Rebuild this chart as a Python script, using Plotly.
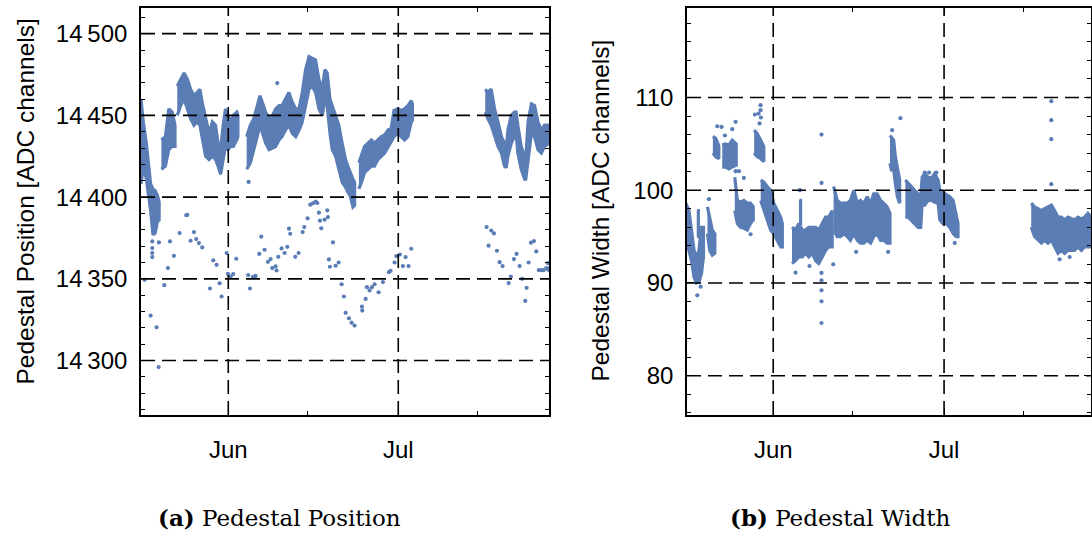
import pandas as pd
import plotly.graph_objects as go

# ---------------------------------------------------------------------------
# Data: days are counted from 1 June; dense periods are stored as the
# min / max envelope of the readings, isolated readings as single points.
# ---------------------------------------------------------------------------
BASE_DAY = pd.Timestamp("2021-06-01")

# Pedestal position [ADC channels] - dense periods
POS_BAND_DAYS = [
    [-15.4, -15.0, -14.5, -14.1, -13.7, -13.3, -12.9, -12.5, -12.2],
    [-11.8, -11.1, -10.5, -9.9, -9.4],
    [-9.0, -8.4, -7.8, -7.2, -6.65, -6.05, -5.5, -5.0, -4.6, -4.0, -3.4, -2.8,
     -2.25, -1.8, -1.35, -0.9, -0.5, -0.05, 0.4, 0.9, 1.5, 1.7],
    [3.25, 3.9, 4.5, 5.1, 5.6, 6.0, 6.6, 7.2, 7.8, 8.35, 8.95, 9.5, 10.1, 10.7,
     11.3, 11.9, 12.5, 13.05, 13.65, 14.25, 14.8, 15.4, 16.0, 16.6, 17.05, 17.45,
     17.95, 18.35, 18.95, 19.5, 20.1, 20.7, 21.1, 21.5, 22.0, 22.3],
    [23.05, 23.5, 24.05, 24.65, 25.25, 25.8, 26.4, 27.0, 27.6, 28.2, 28.75, 29.25,
     29.95, 30.5, 31.1, 31.7, 32.3, 32.5],
    [45.35, 45.8, 46.4, 47.0, 47.6, 48.2, 48.75, 49.05, 49.35, 49.95, 50.5, 50.8,
     51.1, 51.7, 52.3, 52.5, 52.9, 53.5, 54.05, 54.65, 55.25, 55.8, 56.6],
]
POS_BAND_HIGH = [
    [14460, 14446, 14434, 14420, 14408, 14405, 14404, 14401, 14397],
    [14435, 14437, 14454, 14452, 14444],
    [14468, 14472, 14476, 14472, 14466, 14462, 14464, 14466, 14458, 14448, 14439,
     14446, 14444, 14433, 14429, 14444, 14454, 14450, 14446, 14450, 14452, 14450],
    [14437, 14444, 14448, 14456, 14462, 14458, 14452, 14448, 14450, 14454, 14456,
     14456, 14460, 14464, 14458, 14454, 14454, 14464, 14478, 14486, 14485, 14484,
     14472, 14466, 14478, 14476, 14460, 14456, 14450, 14444, 14433, 14423, 14419,
     14415, 14411, 14409],
    [14421, 14425, 14431, 14433, 14435, 14433, 14435, 14437, 14438, 14441, 14442,
     14453, 14454, 14453, 14454, 14456, 14459, 14457],
    [14466, 14464, 14466, 14454, 14446, 14437, 14433, 14429, 14441, 14450, 14452,
     14452, 14444, 14431, 14425, 14423, 14446, 14457, 14456, 14446, 14441, 14444,
     14444],
]
POS_BAND_LOW = [
    [14408, 14418, 14412, 14402, 14392, 14377, 14378, 14385, 14386],
    [14417, 14419, 14429, 14431, 14431],
    [14450, 14456, 14460, 14454, 14448, 14444, 14446, 14444, 14435, 14425, 14423,
     14425, 14423, 14419, 14414, 14423, 14431, 14429, 14431, 14431, 14435, 14437],
    [14417, 14421, 14429, 14437, 14444, 14439, 14433, 14429, 14430, 14431, 14435,
     14437, 14441, 14444, 14439, 14437, 14441, 14446, 14456, 14466, 14468, 14464,
     14454, 14450, 14460, 14456, 14439, 14429, 14425, 14417, 14409, 14406, 14403,
     14401, 14394, 14395],
    [14405, 14409, 14415, 14417, 14419, 14419, 14423, 14425, 14427, 14431, 14434,
     14437, 14439, 14437, 14435, 14437, 14446, 14447],
    [14452, 14448, 14444, 14437, 14431, 14427, 14419, 14418, 14425, 14433, 14437,
     14439, 14427, 14417, 14411, 14411, 14423, 14439, 14437, 14429, 14427, 14431,
     14433],
]

# Pedestal position - isolated readings
POS_DOT_DAY = [
    -14.76, -13.71, -12.65, -12.29, -13.41, -13.41, -13.41, -13.41, -13.12, -12.24,
    -11.29, -10.65, -10.29, -9.59, -8.59, -7.41, -7.24, -6.65, -6.06, -5.65, -5.18,
    -4.59, -3.24, -2.65, -2.06, -1.53, -1.18, -0.29, -0.06, 0.41, 0.88, 1.41, 3.53,
    3.82, 4.35, 4.82, 5.47, 5.82, 6.41, 7.0, 7.47, 7.76, 8.35, 8.53, 8.82, 9.41,
    9.94, 10.41, 10.71, 10.94, 11.82, 12.41, 13.12, 13.41, 14.0, 14.47, 14.94,
    15.41, 15.71, 16.0, 16.18, 16.41, 17.0, 17.47, 17.59, 17.76, 17.94, 18.47,
    18.94, 19.47, 20.0, 20.41, 20.71, 21.29, 21.76, 22.29, 23.59, 23.65, 24.24,
    24.47, 24.94, 25.35, 25.82, 26.53, 27.29, 28.35, 28.65, 29.35, 29.65, 30.29,
    30.82, 31.29, 31.82, 32.29, 45.59, 45.94, 46.41, 46.88, 47.41, 47.88, 48.41,
    49.47, 49.88, 50.41, 50.88, 51.41, 51.88, 52.41, 52.65, 53.0, 53.41, 53.94,
    54.35, 54.82, 55.29, 55.65, 56.12, 56.41, 56.5, 56.55, 8.65, 3.59,
]
POS_DOT_VAL = [
    14349.4, 14327.5, 14320.4, 14296.0, 14372.9, 14368.8, 14365.8, 14363.3, 14380.1,
    14372.3, 14346.1, 14356.6, 14372.9, 14364.1, 14378.0, 14388.9, 14389.1, 14373.3,
    14378.6, 14374.3, 14371.9, 14369.2, 14344.1, 14361.3, 14358.6, 14347.3, 14339.2,
    14365.8, 14353.1, 14351.4, 14352.9, 14362.3, 14352.3, 14344.1, 14351.2, 14351.8,
    14365.3, 14375.8, 14367.8, 14360.4, 14362.1, 14356.6, 14357.6, 14355.1, 14363.5,
    14368.6, 14365.8, 14369.6, 14380.7, 14377.6, 14363.5, 14365.8, 14378.6, 14381.7,
    14387.0, 14395.4, 14396.2, 14397.2, 14396.4, 14390.5, 14385.6, 14380.9, 14386.2,
    14391.9, 14387.8, 14361.9, 14357.4, 14372.3, 14358.0, 14360.0, 14346.7, 14339.2,
    14329.2, 14325.9, 14323.2, 14321.4, 14333.0, 14330.6, 14337.7, 14344.9, 14342.9,
    14344.9, 14346.7, 14341.8, 14348.0, 14354.1, 14354.9, 14360.0, 14363.9, 14364.9,
    14357.8, 14363.3, 14357.8, 14368.4, 14381.7, 14370.3, 14379.5, 14377.8, 14367.2,
    14360.2, 14357.8, 14347.4, 14351.4, 14362.1, 14365.3, 14357.8, 14350.0, 14336.5,
    14344.5, 14360.0, 14372.1, 14373.1, 14366.8, 14355.3, 14355.3, 14355.3, 14356.6,
    14359.6, 14355.5, 14356.2, 14469.8, 14409.3,
]

# Pedestal width [ADC channels] - dense periods
WID_BAND_DAYS = [
    [-15.35, -14.8, -14.35, -13.9, -13.5, -13.05, -12.6, -12.25],
    [-13.35, -13.15],
    [-11.55, -11.15, -10.7, -10.25],
    [-10.6, -10.1, -9.55],
    [-8.95, -8.35, -7.8, -7.2, -6.5],
    [-6.75, -6.3, -5.75, -5.15, -4.55, -4.0, -3.5],
    [-3.35, -2.8, -2.2, -1.65],
    [-2.2, -1.65, -1.05, -0.45, 0.1, 0.7, 1.3, 1.6],
    [3.3, 3.9, 4.5, 5.1, 5.65, 6.25, 6.85, 7.45, 8.0, 8.6, 9.2, 9.75, 10.35],
    [4.6, 4.8],
    [10.6, 11.25, 11.8, 12.4, 13.0, 13.55, 14.15, 14.75, 15.3, 15.9, 16.5, 17.1,
     17.65, 18.25, 18.85, 19.4, 20.0, 20.5],
    [20.5, 20.75, 21.15, 21.45, 21.8, 22.2],
    [23.2, 23.7, 24.25, 24.85, 25.45, 25.9, 26.15, 26.6, 27.2, 27.8, 28.35, 28.95,
     29.25, 29.8, 30.4, 31.0, 31.6, 32.15, 32.45],
    [45.3, 45.9, 46.5, 47.1, 47.65, 48.25, 48.85, 49.4, 50.0, 50.6, 51.15, 51.75,
     52.35, 52.9, 53.5, 54.1, 54.7, 55.25, 55.9],
]
WID_BAND_HIGH = [
    [98.6, 97.8, 95.7, 93.5, 92.8, 93.5, 96.0, 96.0],
    [97.8, 97.8],
    [98.2, 97.1, 95.7, 95.3],
    [105.8, 105.6, 104.8],
    [104.9, 105.0, 104.85, 105.4, 105.0],
    [101.4, 98.9, 98.7, 98.9, 98.6, 98.6, 98.2],
    [106.5, 106.1, 105.4, 104.7],
    [101.1, 100.9, 100.4, 100.0, 98.6, 97.8, 97.1, 96.4],
    [96.0, 95.7, 96.4, 95.7, 95.7, 96.0, 96.0, 96.0, 95.7, 96.4, 97.1, 97.1, 97.8],
    [98.9, 98.9],
    [100.4, 98.9, 98.6, 98.6, 98.6, 98.9, 100.0, 98.6, 98.9, 98.6, 99.3, 98.6, 99.6,
     99.6, 98.9, 98.6, 98.2, 97.5],
    [105.9, 105.75, 105.4, 103.6, 102.2, 101.1],
    [101.1, 100.7, 100.4, 100.0, 99.6, 99.3, 101.4, 101.8, 101.4, 101.3, 101.8,
     101.1, 100.0, 99.8, 99.6, 99.3, 98.9, 97.1, 96.4],
    [98.6, 98.2, 98.0, 97.8, 98.0, 98.2, 98.4, 97.8, 97.1, 97.1, 96.8, 97.1, 96.9,
     96.8, 97.1, 96.9, 97.1, 97.5, 97.1],
]
WID_BAND_LOW = [
    [95.0, 93.5, 92.4, 90.6, 90.0, 90.1, 91.0, 92.8],
    [95.0, 95.0],
    [95.3, 93.5, 93.0, 93.2],
    [104.0, 103.6, 103.4],
    [102.5, 102.5, 102.3, 102.5, 102.7],
    [97.8, 96.4, 96.0, 95.9, 95.7, 96.4, 96.8],
    [104.0, 103.6, 103.4, 103.1],
    [98.9, 97.8, 96.8, 95.7, 95.3, 94.6, 93.9, 93.9],
    [92.1, 92.4, 92.8, 92.8, 93.2, 92.8, 93.2, 92.4, 92.1, 92.8, 93.5, 93.9, 93.9],
    [96.4, 96.4],
    [95.7, 95.0, 95.0, 95.3, 95.0, 94.6, 95.3, 94.6, 94.3, 94.3, 94.6, 94.3, 95.0,
     95.3, 94.6, 94.6, 94.3, 94.3],
    [102.9, 102.2, 102.2, 100.7, 99.3, 98.6],
    [97.1, 97.1, 96.8, 96.4, 96.0, 96.0, 98.6, 98.4, 98.9, 98.9, 98.7, 98.6, 96.8,
     96.4, 96.4, 96.0, 95.3, 95.0, 95.0],
    [96.0, 95.0, 94.6, 94.3, 94.6, 94.3, 94.6, 93.9, 93.2, 93.5, 93.2, 93.5, 93.5,
     93.5, 93.9, 93.5, 93.9, 93.9, 93.9],
]

# Pedestal width - isolated readings
WID_DOT_DAY = [
    -11.29, -6.61, -6.02, -5.15, -6.61, -7.19, -9.06, -9.82, 3.92, 6.37, 8.48, 8.48,
    8.48, 8.48, 8.48, 8.48, 8.48, 10.53, 14.56, 4.68, -2.22, -2.22, -2.57, -3.22,
    -2.16, -2.4, 20.88, 22.34, 48.83, 48.83, 48.83, 48.83, 26.61, 27.37, 28.65,
    31.87, 20.18, 50.29, 52.05, -13.33, -12.75, -3.98, -8.48,
]
WID_DOT_VAL = [
    99.03, 102.05, 102.05, 101.33, 107.37, 106.58, 106.83, 106.9, 91.11, 91.83,
    91.08, 90.29, 89.2, 88.02, 85.68, 100.79, 106.0, 92.01, 93.35, 100.0, 109.17,
    108.63, 108.27, 108.16, 107.84, 107.2, 106.47, 107.77, 109.6, 107.55, 105.5,
    100.65, 101.9, 101.9, 101.9, 94.32, 93.35, 92.55, 92.8, 88.67, 89.6, 95.25,
    105.9,
]

# Axis ticks
MONTH_TICKS = [0, 30]                  # days from 1 June
MONTH_LABELS = ["Jun", "Jul"]
MID_MONTH_TICKS = [-17, 14, 44]        # 15th of May, June, July
POS_TICKS = [14300, 14350, 14400, 14450, 14500]
POS_LABELS = ["14\u2009300", "14\u2009350", "14\u2009400", "14\u2009450", "14\u2009500"]
WID_TICKS = [80, 90, 100, 110]
WID_LABELS = ["80", "90", "100", "110"]

POS_RANGE_DAYS = [-15.4, 56.6]
WID_RANGE_DAYS = [-15.14, 55.8]
POS_RANGE = [14266.7, 14515.7]
WID_RANGE = [75.76, 119.65]

POINT_COLOR = "#5a7db6"


def to_dates(days):
    return [BASE_DAY + pd.Timedelta(days=float(d)) for d in days]


fig = go.Figure()


def add_panel(band_days, band_high, band_low, dot_day, dot_val, xa, ya):
    for d, hi, lo in zip(band_days, band_high, band_low):
        xs = to_dates(list(d) + list(d)[::-1])
        ys = list(hi) + list(lo)[::-1]
        fig.add_trace(go.Scatter(
            x=xs, y=ys, fill="toself", mode="lines",
            fillcolor=POINT_COLOR,
            line=dict(color=POINT_COLOR, width=3.2),
            xaxis=xa, yaxis=ya, showlegend=False, hoverinfo="skip",
        ))
    fig.add_trace(go.Scatter(
        x=to_dates(dot_day), y=dot_val, mode="markers",
        marker=dict(color=POINT_COLOR, size=4.2, line=dict(width=0)),
        xaxis=xa, yaxis=ya, showlegend=False,
    ))


add_panel(POS_BAND_DAYS, POS_BAND_HIGH, POS_BAND_LOW, POS_DOT_DAY, POS_DOT_VAL, "x", "y")
add_panel(WID_BAND_DAYS, WID_BAND_HIGH, WID_BAND_LOW, WID_DOT_DAY, WID_DOT_VAL, "x2", "y2")

W, H = 1092, 536
TICK_FONT = dict(family="Liberation Sans", size=24, color="black")
Y_DOM = [1 - 415 / H, 1 - 8 / H]

common_axis = dict(
    showline=True, linecolor="black", linewidth=1.6, mirror="allticks",
    ticks="inside", ticklen=7, tickwidth=1.4, tickcolor="black",
    showgrid=False, zeroline=False, tickfont=TICK_FONT, layer="above traces",
)


def x_axis(domain, rng, anchor):
    return dict(
        common_axis, domain=domain, anchor=anchor, type="date",
        range=to_dates(rng), tickmode="array",
        tickvals=to_dates(MONTH_TICKS), ticktext=MONTH_LABELS,
        ticklabelstandoff=12,
        minor=dict(tickmode="array", tickvals=to_dates(MID_MONTH_TICKS),
                   ticks="inside", ticklen=4, tickwidth=1.3, tickcolor="black",
                   showgrid=False),
    )


def y_axis(domain, rng, ticks, labels, minor_step, anchor):
    return dict(
        common_axis, domain=domain, anchor=anchor, range=rng,
        tickmode="array", tickvals=ticks, ticktext=labels,
        ticklabelstandoff=7,
        minor=dict(tickmode="linear", tick0=ticks[0], dtick=minor_step,
                   ticks="inside", ticklen=4.5, tickwidth=1.3, tickcolor="black",
                   showgrid=False),
    )


fig.update_layout(
    width=W, height=H,
    margin=dict(l=0, r=0, t=0, b=0),
    paper_bgcolor="white", plot_bgcolor="white",
    xaxis=x_axis([141 / W, 549 / W], POS_RANGE_DAYS, "y"),
    yaxis=y_axis(Y_DOM, POS_RANGE, POS_TICKS, POS_LABELS, 10, "x"),
    xaxis2=x_axis([687 / W, 1091 / W], WID_RANGE_DAYS, "y2"),
    yaxis2=y_axis(Y_DOM, WID_RANGE, WID_TICKS, WID_LABELS, 2, "x2"),
)

# Dashed grid drawn on top of the readings, at the major tick positions
GRID = dict(color="black", width=1.6, dash="14px,7px")
shapes = []
for xa, ya, yticks in (("x", "y", POS_TICKS), ("x2", "y2", WID_TICKS)):
    for d in MONTH_TICKS:
        t = to_dates([d])[0]
        shapes.append(dict(type="line", xref=xa, yref=f"{ya} domain", x0=t, x1=t,
                           y0=0, y1=1, line=GRID, layer="above"))
    for v in yticks:
        shapes.append(dict(type="line", xref=f"{xa} domain", yref=ya, x0=0, x1=1,
                           y0=v, y1=v, line=GRID, layer="above"))
fig.update_layout(shapes=shapes)

# Axis titles and panel captions
TITLE_FONT = dict(family="Liberation Sans", size=24.5, color="black")
CAPTION_FONT = dict(family="DejaVu Serif", size=23, color="black")
fig.add_annotation(text="Pedestal Position [ADC channels]", x=25 / W, y=1 - 201.5 / H,
                   xref="paper", yref="paper", textangle=-90, showarrow=False,
                   font=TITLE_FONT, xanchor="center", yanchor="middle")
fig.add_annotation(text="Pedestal Width [ADC channels]", x=600 / W, y=1 - 210.5 / H,
                   xref="paper", yref="paper", textangle=-90, showarrow=False,
                   font=TITLE_FONT, xanchor="center", yanchor="middle")
fig.add_annotation(text="<b>(a)</b> Pedestal Position", x=279 / W, y=1 - 517 / H,
                   xref="paper", yref="paper", showarrow=False, font=CAPTION_FONT,
                   xanchor="center", yanchor="middle")
fig.add_annotation(text="<b>(b)</b> Pedestal Width", x=840 / W, y=1 - 517 / H,
                   xref="paper", yref="paper", showarrow=False, font=CAPTION_FONT,
                   xanchor="center", yanchor="middle")

fig.write_html("out.html")
